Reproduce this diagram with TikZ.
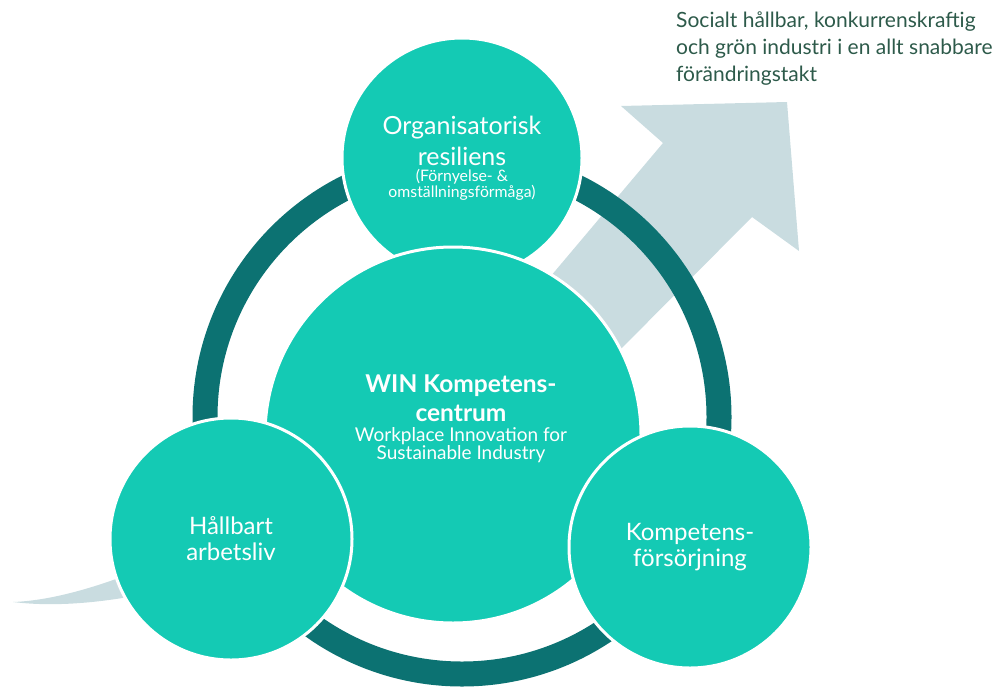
\documentclass[tikz,border=0pt]{standalone}
\usepackage{fontspec}
\setmainfont{Lato}
\usetikzlibrary{positioning}

\definecolor{winteal}{HTML}{14CAB4}
\definecolor{windark}{HTML}{0C7272}
\definecolor{winsky}{HTML}{C9DCE0}
\definecolor{wintext}{HTML}{2D5A4A}

\begin{document}
\begin{tikzpicture}[x=1pt,y=-1pt,
    bubble/.style={circle,fill=winteal,draw=white,line width=3pt,
      inner sep=0pt,text=white,align=center,font=\fontsize{24}{26}\selectfont},
    ring/.style={draw=windark,line width=25pt},
    inside/.style={text=white,align=center,inner sep=0pt}]
  \useasboundingbox (0,0) rectangle (1003,688);

  % curved arrow behind everything
  \fill[winsky] (13,602) .. controls (150,597) and (416,436) .. (545,283)
    -- (663,143) -- (621,106) -- (787,102) -- (799,251) -- (752,217)
    -- (610,360) .. controls (520,460) and (200,625) .. (13,602) -- cycle;

  % ring
  \coordinate (hub) at (462,417);
  \draw[ring] (hub) circle (257);

  % circles
  \node[bubble,minimum size=240pt] (resil) at (462,158) {};
  \node[bubble,minimum size=376pt] (win) at (453,435) {};
  \node[bubble,minimum size=242pt] (arbliv) at (231,539)
    {H\aa llbart\\arbetsliv};
  \node[bubble,minimum size=242pt] (kompf) at (690,547)
    {Kompetens-\\f\"ors\"orjning};

  % texts
  \node[inside] (resiltxt) at (462,158)
    {\fontsize{25}{18}\selectfont Organisatorisk\\[7pt]
     \fontsize{25}{18}\selectfont resiliens\\[3pt]
     \fontsize{15.8}{18}\selectfont (F\"ornyelse- \&\\
     \fontsize{15.8}{18}\selectfont omst\"allningsf\"orm\aa ga)};
  \node[inside] (wintxt) at (461,419)
    {\fontsize{24.5}{20}\selectfont\bfseries WIN Kompetens-\\[7pt]
     \fontsize{24.5}{20}\selectfont\bfseries centrum\\[5pt]
     \fontsize{19}{20}\selectfont Workplace Innovation for\\
     \fontsize{19}{20}\selectfont Sustainable Industry};
  \node[text=wintext,align=left,anchor=north west,inner sep=0pt,
    font=\fontsize{21}{27}\selectfont] (goal) at (676,12)
    {Socialt h\aa llbar, konkurrenskraftig\\
     och gr\"on industri i en allt snabbare\\f\"or\"andringstakt};
\end{tikzpicture}
\end{document}
